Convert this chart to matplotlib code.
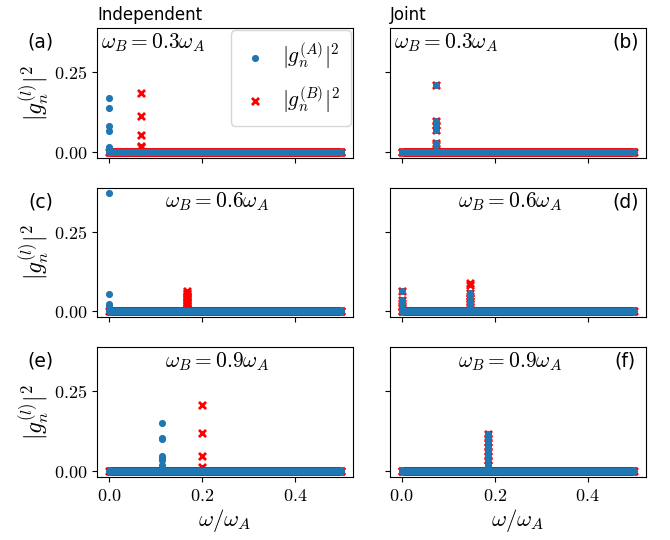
import numpy as np
import matplotlib
matplotlib.use("Agg")
import matplotlib.pyplot as plt
from matplotlib.ticker import FuncFormatter

plt.rcParams.update({"mathtext.fontset": "cm", "font.family": "DejaVu Sans",
                     "font.size": 11})

# frequency grid (omega / omega_A) on which |g_n|^2 sits at ~0
omega_grid = np.linspace(0.0, 0.5, 301)
base = np.zeros_like(omega_grid)

# spikes: (omega position, list of |g|^2 values)
# row 1: omega_B = 0.3 omega_A
ind03_A_w, ind03_A = 0.0, [0.170, 0.138, 0.083, 0.065, 0.016, 0.010]
ind03_B_w, ind03_B = 0.069, [0.184, 0.113, 0.054, 0.019, 0.014]
jnt03_w, jnt03 = 0.074, [0.211, 0.097, 0.085, 0.069, 0.028, 0.021]
# row 2: omega_B = 0.6 omega_A
ind06_A_w, ind06_A = 0.0, [0.371, 0.056, 0.024, 0.018]
ind06_B_w, ind06_B = 0.168, [0.063, 0.059, 0.055, 0.050, 0.046, 0.041, 0.036,
                             0.031, 0.026, 0.021, 0.016, 0.011, 0.007]
jnt06_w0, jnt06_0 = 0.0, [0.063, 0.035, 0.025, 0.015]
jnt06_w1 = 0.146
jnt06_A1 = [0.058, 0.050, 0.041, 0.032, 0.022, 0.013]
jnt06_B1 = [0.090, 0.082, 0.058, 0.050, 0.041, 0.032, 0.022, 0.013]
# row 3: omega_B = 0.9 omega_A
ind09_A_w, ind09_A = 0.115, [0.152, 0.105, 0.100, 0.048, 0.040, 0.034, 0.019]
ind09_B_w, ind09_B = 0.200, [0.206, 0.120, 0.047, 0.013]
jnt09_w, jnt09 = 0.186, [0.117, 0.104, 0.090, 0.076, 0.062, 0.047, 0.033, 0.018]

BLUE, RED = "#1f77b4", "red"


def series(spikes):
    xs, ys = [omega_grid], [base]
    for w, vals in spikes:
        xs.append(np.full(len(vals), w)); ys.append(np.asarray(vals))
    return np.concatenate(xs), np.concatenate(ys)


panels = [
    ([(ind03_A_w, ind03_A)], [(ind03_B_w, ind03_B)]),
    ([(jnt03_w, jnt03)], [(jnt03_w, jnt03)]),
    ([(ind06_A_w, ind06_A)], [(ind06_B_w, ind06_B)]),
    ([(jnt06_w0, jnt06_0), (jnt06_w1, jnt06_A1)], [(jnt06_w0, jnt06_0), (jnt06_w1, jnt06_B1)]),
    ([(ind09_A_w, ind09_A)], [(ind09_B_w, ind09_B)]),
    ([(jnt09_w, jnt09)], [(jnt09_w, jnt09)]),
]
wb_text = [r"$\omega_B = 0.3\omega_A$"] * 2 + [r"$\omega_B = 0.6\omega_A$"] * 2 + \
          [r"$\omega_B = 0.9\omega_A$"] * 2
tags = ["(a)", "(b)", "(c)", "(d)", "(e)", "(f)"]

fig, axes = plt.subplots(3, 2, sharex=True, sharey=True, figsize=(6.7, 5.4), dpi=100)
fig.subplots_adjust(left=0.145, right=0.964, top=0.948, bottom=0.117,
                    wspace=0.145, hspace=0.23)

for i, ax in enumerate(axes.flat):
    specA, specB = panels[i]
    xb, yb = series(specB)
    xa, ya = series(specA)
    hB = ax.scatter(xb, yb, marker="x", s=26, linewidths=2, color=RED, zorder=2)
    hA = ax.scatter(xa, ya, marker="o", s=17, color=BLUE, zorder=3)
    row, col = divmod(i, 2)
    if i < 2:
        ax.text(0.015, 0.89, wb_text[i], transform=ax.transAxes, ha="left",
                va="center", fontsize=15.5)
    else:
        ax.text(0.47, 0.89, wb_text[i], transform=ax.transAxes, ha="center",
                va="center", fontsize=15.5)
    if col == 0:
        ax.text(-0.22, 0.89, tags[i], transform=ax.transAxes, ha="center",
                va="center", fontsize=13.5)
        ax.set_ylabel(r"$|g_n^{(l)}|^2$", fontsize=17, labelpad=2)
    else:
        ax.text(0.92, 0.89, tags[i], transform=ax.transAxes, ha="center",
                va="center", fontsize=13.5)
    if row == 2:
        ax.set_xlabel(r"$\omega/\omega_A$", fontsize=16.5, labelpad=2)
    if i == 0:
        ax.legend([hA, hB], [r"$|g_n^{(A)}|^2$", r"$|g_n^{(B)}|^2$"],
                  loc="upper right", fontsize=15.5, borderaxespad=0.1,
                  labelspacing=0.6, handlelength=1.3, handletextpad=0.6,
                  borderpad=0.5)

axes[0, 0].set_title("Independent", loc="left", fontsize=12)
axes[0, 1].set_title("Joint", loc="left", fontsize=12)

ax0 = axes[0, 0]
ax0.set_yticks([0.0, 0.25])
ax0.set_xticks([0.0, 0.2, 0.4])
ax0.yaxis.set_major_formatter(FuncFormatter(lambda v, p: f"${v:.2f}$"))
ax0.xaxis.set_major_formatter(FuncFormatter(lambda v, p: f"${v:.1f}$"))
for ax in axes.flat:
    ax.tick_params(labelsize=13)

fig.savefig("out.png")
